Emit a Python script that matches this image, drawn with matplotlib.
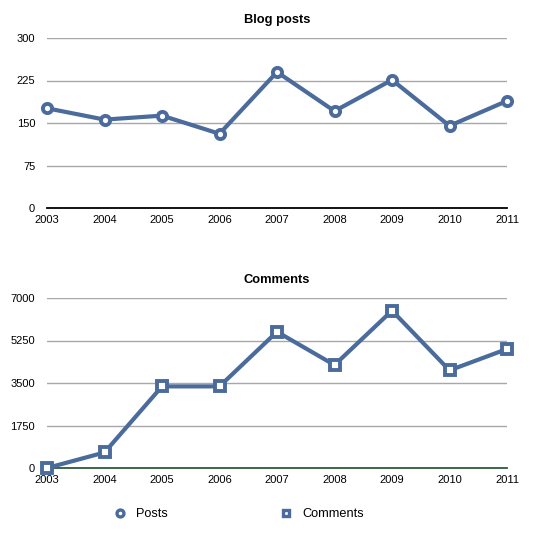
import matplotlib
matplotlib.use("Agg")
import matplotlib.pyplot as plt
from matplotlib.lines import Line2D

years = [2003, 2004, 2005, 2006, 2007, 2008, 2009, 2010, 2011]
posts = [176, 156, 163, 131, 240, 171, 226, 145, 189]
comments = [0, 640, 3360, 3360, 5610, 4240, 6480, 4020, 4900]
posts_ticks = [0, 75, 150, 225, 300]
comments_ticks = [0, 1750, 3500, 5250, 7000]

plt.rcParams['font.family'] = ['Liberation Sans', 'DejaVu Sans']
W, H = 550, 547
fig = plt.figure(figsize=(W / 100, H / 100), dpi=100)

blue = '#4a6b9b'

def make_ax(top, bottom, title, data, ticks, marker, zero_color):
    ax = fig.add_axes([47 / W, 1 - bottom / H, (507 - 47) / W, (bottom - top) / H])
    ax.plot(years, data, color=blue, lw=3.0, marker=marker, ms=6.6 if marker == 'o' else 6.6,
            mfc='white', mec=blue, mew=2.8, clip_on=False, zorder=5)
    ax.set_xlim(years[0], years[-1])
    ax.set_ylim(ticks[0], ticks[-1])
    ax.set_yticks(ticks)
    ax.set_xticks(years)
    ax.set_xticklabels([str(y) for y in years])
    ax.yaxis.grid(True, color='#a8a8a8', lw=1.0)
    ax.set_axisbelow(True)
    for s in ['top', 'right', 'left']:
        ax.spines[s].set_visible(False)
    ax.spines['bottom'].set_color(zero_color)
    ax.spines['bottom'].set_linewidth(1.3)
    ax.spines['bottom'].set_zorder(3)
    ax.tick_params(axis='both', length=0, labelsize=8, colors='black')
    ax.tick_params(axis='y', pad=8.5)
    ax.tick_params(axis='x', pad=5)
    ax.set_title(title, fontsize=9.3, fontweight='bold', pad=11)
    return ax

make_ax(38, 208, 'Blog posts', posts, posts_ticks, 'o', 'black')
make_ax(298, 468, 'Comments', comments, comments_ticks, 's', '#2f5a3a')

handles = [
    Line2D([], [], color=blue, lw=0, marker='o', ms=5, mfc='white', mec=blue, mew=2.4),
    Line2D([], [], color=blue, lw=0, marker='s', ms=5, mfc='white', mec=blue, mew=2.4),
]
fig.legend(handles, ['Posts', 'Comments'], loc='center', ncol=2,
           bbox_to_anchor=(238.5 / W, 1 - 514 / H), frameon=False, fontsize=9.2,
           handlelength=1.0, handletextpad=0.8, columnspacing=8.7)

fig.savefig('out.png', dpi=100)
